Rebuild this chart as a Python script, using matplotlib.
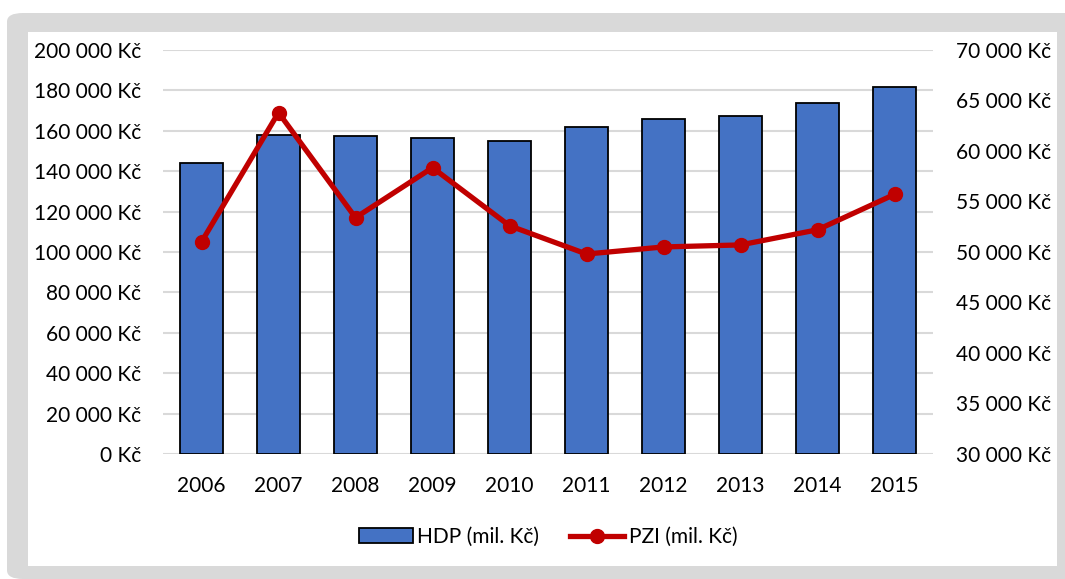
import matplotlib
matplotlib.use('Agg')
import matplotlib.pyplot as plt
from matplotlib.patches import FancyBboxPatch, Rectangle
from matplotlib.ticker import FuncFormatter

plt.rcParams['font.family'] = ['Lato', 'DejaVu Sans']

# Data
years = ['2006', '2007', '2008', '2009', '2010', '2011', '2012', '2013', '2014', '2015']
hdp = [143900, 157900, 157400, 156300, 155000, 161900, 165700, 167300, 173900, 181500]
pzi = [51000, 63800, 53400, 58350, 52600, 49800, 50500, 50700, 52200, 55700]

left_ticks = list(range(0, 200001, 20000))
right_ticks = list(range(30000, 70001, 5000))

W, H = 1065, 579
fs = 15
fig = plt.figure(figsize=(W / 100, H / 100), dpi=100)
fig.patch.set_facecolor('white')

# grey frame with white inner panel
fig.patches.append(FancyBboxPatch((7 / W, 0), (W - 7) / W + 0.02, (H - 13) / H,
                                  boxstyle='round,pad=0,rounding_size=0.015',
                                  transform=fig.transFigure, facecolor='#D9D9D9',
                                  edgecolor='none', zorder=-2))
fig.patches.append(Rectangle((28 / W, (H - 566) / H), (1057 - 28) / W, (566 - 32) / H,
                             transform=fig.transFigure, facecolor='white',
                             edgecolor='none', zorder=-1))

ax = fig.add_axes([163 / W, 1 - 454 / H, (933 - 163) / W, (454 - 50) / H])
ax.patch.set_alpha(0)
x = list(range(len(years)))

ax.set_axisbelow(True)
ax.grid(axis='y', color='#D9D9D9', linewidth=1.5)
bars = ax.bar(x, hdp, width=0.55, color='#4472C4', edgecolor='black', linewidth=1.3,
              label='HDP (mil. Kč)', zorder=2)
ax.set_ylim(0, 200000)
ax.set_xlim(-0.5, len(years) - 0.5)
ax.set_yticks(left_ticks)
fmt = FuncFormatter(lambda v, p: f'{int(v):,}'.replace(',', ' ') + ' Kč')
ax.yaxis.set_major_formatter(fmt)
ax.set_xticks(x)
ax.set_xticklabels(years)
ax.tick_params(axis='y', length=0, pad=16, labelsize=fs, colors='black')
ax.tick_params(axis='x', length=0, pad=16, labelsize=fs, colors='black')
for s in ax.spines.values():
    s.set_visible(False)

ax2 = ax.twinx()
line, = ax2.plot(x, pzi, color='#C00000', linewidth=3.8, marker='o', markersize=10,
                 label='PZI (mil. Kč)', zorder=3)
ax2.set_ylim(30000, 70000)
ax2.set_yticks(right_ticks)
ax2.yaxis.set_major_formatter(fmt)
ax2.tick_params(axis='y', length=0, pad=16.5, labelsize=fs, colors='black')
for s in ax2.spines.values():
    s.set_visible(False)

fig.legend([bars, line], ['HDP (mil. Kč)', 'PZI (mil. Kč)'], loc='center',
           bbox_to_anchor=(548 / W, 1 - 537 / H), ncol=2, frameon=False,
           fontsize=fs, handlelength=2.6, handletextpad=0.2, columnspacing=1.5)

fig.savefig('out.png', dpi=100)
